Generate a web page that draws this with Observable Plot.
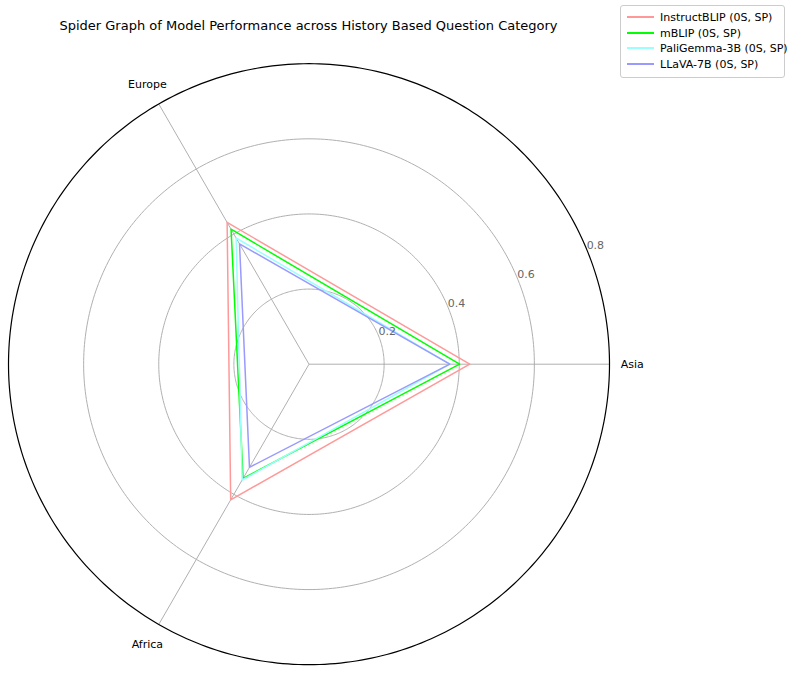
<!DOCTYPE html>
<html>
<head>
<meta charset="utf-8">
<script src="https://cdn.jsdelivr.net/npm/d3@7"></script>
<script src="https://cdn.jsdelivr.net/npm/@observablehq/plot@0.6"></script>
<style>
  html, body { margin: 0; padding: 0; background: #fff; }
  #wrap { position: relative; width: 793px; height: 673px; font-family: "DejaVu Sans", sans-serif; }
  #title { position: absolute; left: 0; width: 617px; top: 18px; text-align: center; font-size: 13px; color: #000; white-space: nowrap; }
  #legend { position: absolute; left: 620px; top: 5px; width: 165px; height: 73px; border: 1px solid #cccccc; border-radius: 3px; background: rgba(255,255,255,0.8); font-size: 11px; box-sizing: border-box; }
  .item { position: absolute; left: 6px; height: 14px; display: flex; align-items: center; white-space: nowrap; }
  .sw { width: 27px; flex: 0 0 27px; margin-right: 6px; height: 2px; }
</style>
</head>
<body>
<div id="wrap">
  <div id="chart"></div>
  <div id="title">Spider Graph of Model Performance across History Based Question Category</div>
  <div id="legend"></div>
</div>
<script>
// Data
const categories = ["Asia", "Europe", "Africa"];
const models = ["InstructBLIP (0S, SP)", "mBLIP (0S, SP)", "PaliGemma-3B (0S, SP)", "LLaVA-7B (0S, SP)"];
const instructblip = [0.428, 0.436, 0.417];
const mblip = [0.401, 0.415, 0.351];
const paligemma = [0.375, 0.388, 0.356];
const llava = [0.375, 0.370, 0.317];
const colors = ["#ff9999", "#00ff00", "#99ffff", "#9999ff"];
const widths = [1.5, 1.5, 1.5, 1.5];
const rTicks = [0.2, 0.4, 0.6, 0.8];
const rMax = 0.8;

const series = [instructblip, mblip, paligemma, llava];

// Layout
const W = 793, H = 673;
const cx = 308.5, cy = 363.7, R = 300.5;
const k = R / rMax; // px per unit
const angle = i => (2 * Math.PI * i) / categories.length;

const pts = [];
series.forEach((vals, s) => {
  vals.forEach((v, i) => {
    pts.push({model: models[s], x: v * Math.cos(angle(i)), y: v * Math.sin(angle(i)), order: i});
  });
});

// grid circles
const circ = [];
rTicks.forEach(t => {
  for (let a = 0; a <= 360; a += 1) {
    const th = a * Math.PI / 180;
    circ.push({t, x: t * Math.cos(th), y: t * Math.sin(th)});
  }
});
const gridCirc = circ.filter(d => d.t < rMax);
const outerCirc = circ.filter(d => d.t === rMax);

const spokes = categories.map((c, i) => ({c, x1: 0, y1: 0, x2: rMax * Math.cos(angle(i)), y2: rMax * Math.sin(angle(i))}));
const labR = rMax * 1.076;
const catLabels = categories.map((c, i) => ({c, x: labR * Math.cos(angle(i)), y: labR * Math.sin(angle(i))}));
const tickTh = 22.5 * Math.PI / 180;
const tickLabels = rTicks.map(t => ({t, x: t * Math.cos(tickTh), y: t * Math.sin(tickTh)}));

const plot = Plot.plot({
  width: W, height: H,
  margin: 0,
  x: {domain: [-cx / k, (W - cx) / k], axis: null},
  y: {domain: [-(H - cy) / k, cy / k], axis: null},
  style: {fontFamily: "DejaVu Sans, sans-serif", background: "#fff"},
  marks: [
    Plot.line(gridCirc, {x: "x", y: "y", z: "t", stroke: "#b0b0b0", strokeWidth: 1}),
    Plot.link(spokes, {x1: "x1", y1: "y1", x2: "x2", y2: "y2", stroke: "#b0b0b0", strokeWidth: 1}),
    ...models.map((m, s) => Plot.line(pts.filter(d => d.model === m), {x: "x", y: "y", curve: "linear-closed", stroke: colors[s], strokeWidth: widths[s]})),
    Plot.line(outerCirc, {x: "x", y: "y", stroke: "#000", strokeWidth: 1.2}),
    Plot.text(tickLabels, {x: "x", y: "y", text: d => d.t.toFixed(1), textAnchor: "start", lineAnchor: "bottom", fill: "#666", fontSize: 11}),
    Plot.text(catLabels, {x: "x", y: "y", text: "c", fill: "#000", fontSize: 11})
  ]
});
document.getElementById("chart").appendChild(plot);

// legend
const leg = document.getElementById("legend");
models.forEach((m, s) => {
  const it = document.createElement("div");
  it.className = "item";
  it.style.top = Math.round(4 + s * 15.5) + "px";
  const sw = document.createElement("div");
  sw.className = "sw";
  sw.style.background = colors[s];
  const tx = document.createElement("span");
  tx.textContent = m;
  it.appendChild(sw); it.appendChild(tx);
  leg.appendChild(it);
});
</script>
</body>
</html>
